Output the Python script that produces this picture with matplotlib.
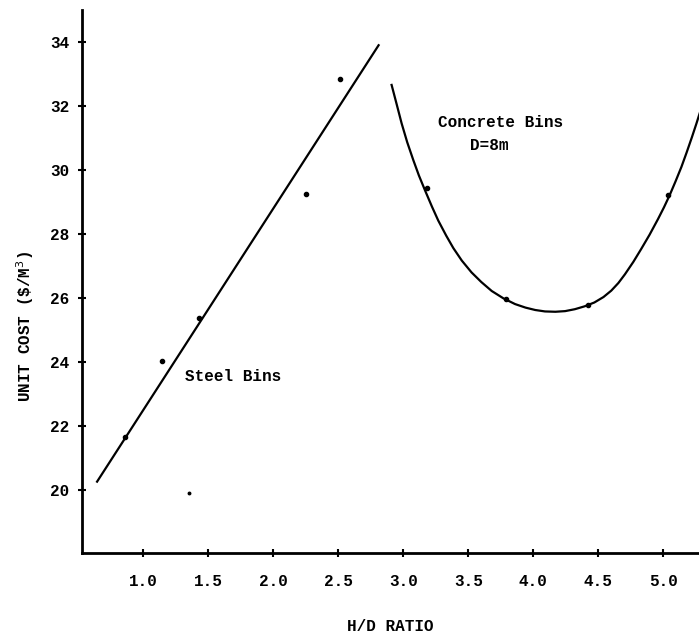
import matplotlib.pyplot as plt
import numpy as np

# values

# steel bins: measured points and straight fit line
steel_x = [0.86, 1.14, 1.43, 2.25, 2.51]
steel_y = [21.67, 24.04, 25.38, 29.24, 32.83]
steel_line_x = [0.644, 2.81]
steel_line_y = [20.26, 33.9]

conc_x = [3.18, 3.79, 4.42, 5.04]
conc_y = [29.45, 25.96, 25.78, 29.22]
conc_curve_x = [2.91, 2.95, 2.987, 3.03, 3.077, 3.12, 3.166, 3.22, 3.269, 3.33,
                3.385, 3.45, 3.525, 3.60, 3.68, 3.77, 3.86, 3.94, 4.015, 4.09,
                4.17, 4.245, 4.32, 4.395, 4.47, 4.54, 4.60, 4.655, 4.705, 4.77,
                4.83, 4.895, 4.96, 5.005, 5.05, 5.095, 5.14, 5.18, 5.22, 5.255,
                5.29, 5.35]
conc_curve_y = [32.66, 32.04, 31.46, 30.87, 30.31, 29.83, 29.375, 28.86, 28.42, 27.95,
                27.56, 27.17, 26.80, 26.50, 26.22, 25.99, 25.81, 25.70, 25.625, 25.58,
                25.57, 25.59, 25.65, 25.74, 25.86, 26.03, 26.23, 26.47, 26.74, 27.13,
                27.53, 27.98, 28.47, 28.83, 29.22, 29.65, 30.10, 30.55, 31.02, 31.45,
                31.9, 32.7]

# stray dot on the scan
stray_x = [1.35]
stray_y = [19.9]

x_ticks = [1.0, 1.5, 2.0, 2.5, 3.0, 3.5, 4.0, 4.5, 5.0]
y_ticks = [20, 22, 24, 26, 28, 30, 32, 34]

font = 'Liberation Mono'
fs = 11.5

fig = plt.figure(figsize=(6.99, 6.36), dpi=100)
ax = fig.add_axes([0.1173, 0.1305, 0.8827, 0.8537])

ax.plot(steel_line_x, steel_line_y, color='black', lw=1.6)
ax.plot(steel_x, steel_y, 'o', color='black', ms=3)
ax.plot(conc_curve_x, conc_curve_y, color='black', lw=1.6)
ax.plot(conc_x, conc_y, 'o', color='black', ms=3)
ax.plot(stray_x, stray_y, 'o', color='black', ms=1.8)

ax.set_xlim(0.528, 5.275)
ax.set_ylim(18.03, 35.0)

for s in ['top', 'right']:
    ax.spines[s].set_visible(False)
for s in ['left', 'bottom']:
    ax.spines[s].set_linewidth(2)

ax.set_xticks(x_ticks)
ax.set_xticklabels(['%.1f' % v for v in x_ticks])
ax.set_yticks(y_ticks)
ax.set_yticklabels([str(v) for v in y_ticks])
ax.tick_params(direction='inout', length=6, width=1.5)
ax.tick_params(axis='x', pad=12)
ax.tick_params(axis='y', pad=6)
for lab in ax.get_xticklabels() + ax.get_yticklabels():
    lab.set_fontfamily(font)
    lab.set_fontsize(fs)
    lab.set_fontweight('bold')

ax.set_xlabel('H/D RATIO', fontfamily=font, fontsize=fs, fontweight='bold')
ax.xaxis.set_label_coords(0.5, -0.122)
ax.set_ylabel(r'UNIT COST (\$/M$^3$)', fontfamily=font, fontsize=fs, fontweight='bold')
ax.yaxis.set_label_coords(-0.075, 0.418)

ax.text(1.32, 23.56, 'Steel Bins', fontfamily=font, fontsize=fs,
        fontweight='bold', va='center', ha='left')
ax.text(3.27, 31.5, 'Concrete Bins', fontfamily=font, fontsize=fs,
        fontweight='bold', va='center', ha='left')
ax.text(3.51, 30.78, 'D=8m', fontfamily=font, fontsize=fs,
        fontweight='bold', va='center', ha='left')

fig.savefig('out.png', dpi=100)
